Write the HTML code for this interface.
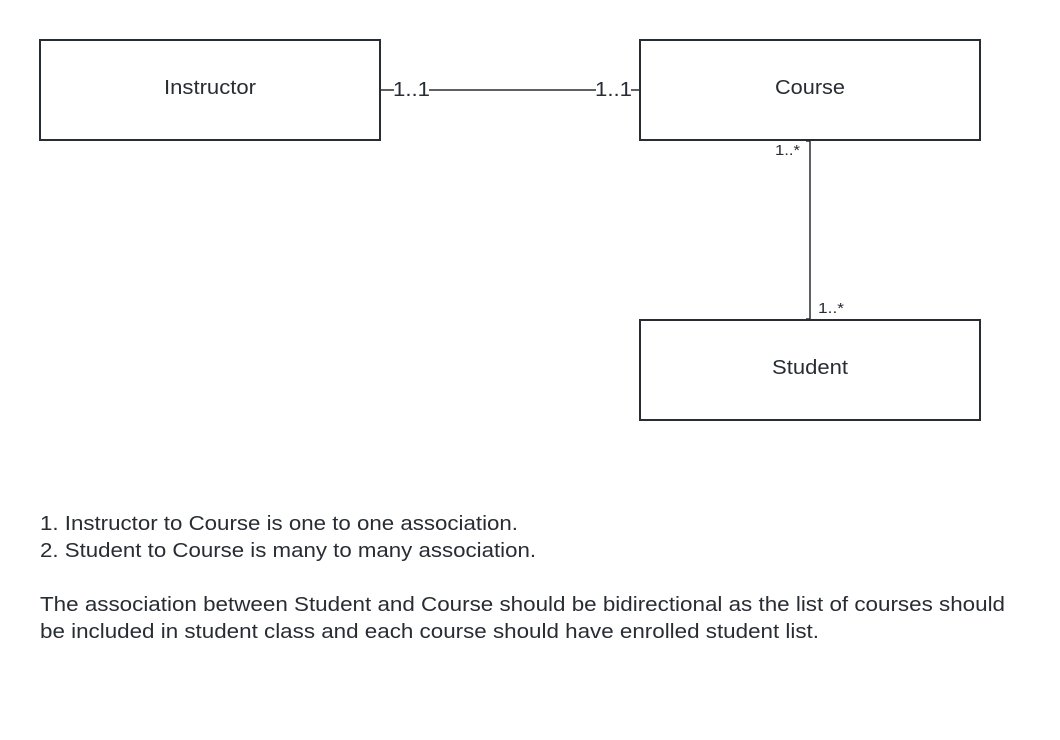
<!DOCTYPE html>
<html><head><meta charset="utf-8"><style>
html,body{margin:0;padding:0;background:#fff;}
svg{display:block;}
text{font-family:"Liberation Sans",sans-serif;fill:#282c33;}
</style></head><body>
<svg width="1060" height="740" viewBox="0 0 1060 740">
<g fill="#fff" stroke="#282c33" stroke-width="2">
<rect x="40" y="40" width="340" height="100"/>
<rect x="640" y="40" width="340" height="100"/>
<rect x="640" y="320" width="340" height="100"/>
</g>
<g font-size="20">
<text x="164" y="94" textLength="92" lengthAdjust="spacingAndGlyphs">Instructor</text>
<text x="775" y="94" textLength="70" lengthAdjust="spacingAndGlyphs">Course</text>
<text x="772" y="374" textLength="76" lengthAdjust="spacingAndGlyphs">Student</text>
</g>
<g stroke="#282c33" stroke-width="1.5" fill="none">
<line x1="381" y1="90" x2="394" y2="90"/>
<line x1="429" y1="90" x2="596" y2="90"/>
<line x1="631" y1="90" x2="639" y2="90"/>
<line x1="810" y1="141" x2="810" y2="319"/>
<line x1="806" y1="141" x2="810" y2="141"/>
<line x1="806" y1="319" x2="810" y2="319"/>
</g>
<g font-size="20">
<text x="393" y="96" textLength="37" lengthAdjust="spacingAndGlyphs">1..1</text>
<text x="595" y="96" textLength="37" lengthAdjust="spacingAndGlyphs">1..1</text>
</g>
<g font-size="15">
<text x="775" y="155" textLength="25" lengthAdjust="spacingAndGlyphs">1..*</text>
<text x="818" y="313" textLength="26" lengthAdjust="spacingAndGlyphs">1..*</text>
</g>
<g font-size="20">
<text x="40" y="530" textLength="478" lengthAdjust="spacingAndGlyphs">1. Instructor to Course is one to one association.</text>
<text x="40" y="557" textLength="496" lengthAdjust="spacingAndGlyphs">2. Student to Course is many to many association.</text>
<text x="40" y="611" textLength="965" lengthAdjust="spacingAndGlyphs">The association between Student and Course should be bidirectional as the list of courses should</text>
<text x="40" y="638" textLength="779" lengthAdjust="spacingAndGlyphs">be included in student class and each course should have enrolled student list.</text>
</g>
</svg>
</body></html>
